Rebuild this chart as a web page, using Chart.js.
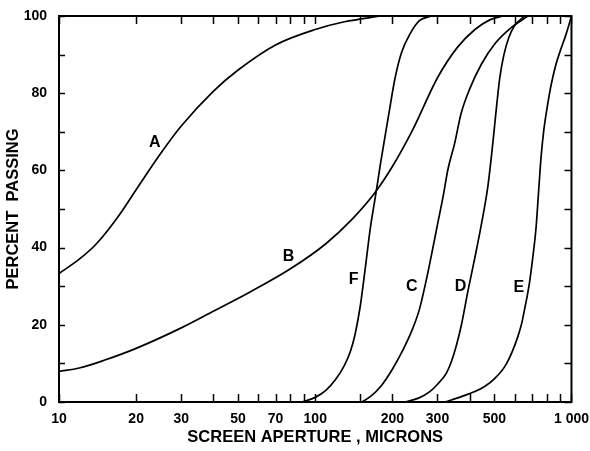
<!DOCTYPE html>
<html>
<head>
<meta charset="utf-8">
<script src="https://cdn.jsdelivr.net/npm/chart.js@4"></script>
<style>
  html, body { margin: 0; padding: 0; background: #fff; }
  canvas { display: block; }
</style>
</head>
<body>
<canvas id="myChart" width="590" height="451"></canvas>
<script>
// screen aperture (microns) and cumulative percent passing for each sample
const curveAx = [10, 12, 14, 17, 20, 25, 30, 40, 50, 70, 100, 130, 180];
const curveAy = [33.3, 37, 41, 48, 55, 64.5, 71.5, 80.5, 86, 92.5, 96.5, 98.5, 100];

const curveBx = [10, 12, 15, 20, 30, 40, 55, 80, 110, 140, 170, 200, 240, 300, 360, 420, 480, 540];
const curveBy = [7.9, 8.8, 10.8, 13.9, 19.2, 23.5, 28.3, 34.5, 41, 47.5, 54, 61, 70.5, 84, 92, 96.5, 99, 100];

const curveCx = [152, 165, 180, 200, 220, 240, 255, 270, 285, 300, 315, 330, 350, 370, 400, 445, 505, 582, 676];
const curveCy = [0, 1.5, 4, 8.5, 13.5, 19, 24, 31, 38.5, 46, 53, 60.5, 67, 74.5, 81, 87.5, 93, 97, 100];

const curveDx = [224, 253, 280, 302, 325, 340, 355, 372, 395, 420, 445, 472, 494, 509, 525, 545, 570, 600, 656];
const curveDy = [0, 1, 2.7, 4.8, 7.5, 10.5, 14.5, 20, 29, 37.5, 46, 56, 67.5, 76, 84, 90, 94.5, 97.5, 100];

const curveEx = [321, 372, 420, 458, 500, 548, 585, 618, 640, 656, 672, 686, 705, 727, 745, 761, 780, 800, 832, 870, 910, 955, 1000];
const curveEy = [0, 1.4, 2.7, 4, 6, 9.1, 12.8, 17, 20.5, 24, 27.5, 31, 37, 45, 55, 63.5, 70.5, 75.5, 82, 87.5, 91.5, 95.5, 100];

const curveFx = [89, 100, 110, 120, 130, 137, 143, 150, 157, 164, 172, 180, 193, 205, 217, 235, 255, 284];
const curveFy = [0, 1.2, 3, 5.8, 9.5, 13, 17.5, 25, 35, 45, 53.5, 62, 74, 84, 90.5, 95.5, 98.8, 100];

const curveNames = ['A', 'B', 'C', 'D', 'E', 'F'];
const labelX = [23.65, 78.6, 238, 369, 623, 141.3];
const labelY = [67.2, 37.6, 29.9, 29.9, 29.6, 31.6];

const xLabelled = [10, 20, 30, 50, 70, 100, 200, 300, 500, 1000];

const series = [
  [curveAx, curveAy], [curveBx, curveBy], [curveCx, curveCy],
  [curveDx, curveDy], [curveEx, curveEy], [curveFx, curveFy]
];

const toPoints = (xs, ys) => xs.map((x, i) => ({ x: x, y: ys[i] }));

// frame with inward tick marks on all four sides, plus curve letters
const framePlugin = {
  id: 'frame',
  afterDatasetsDraw(chart) {
    const c = chart.ctx;
    const a = chart.chartArea;
    const sx = chart.scales.x;
    const sy = chart.scales.y;
    c.save();
    c.strokeStyle = '#000';
    c.lineWidth = 2;
    c.strokeRect(a.left, a.top, a.right - a.left, a.bottom - a.top);

    c.lineWidth = 1.5;
    c.beginPath();
    sx.ticks.forEach(t => {
      const px = Math.round(sx.getPixelForValue(t.value)) + 0.5;
      c.moveTo(px, a.bottom);
      c.lineTo(px, a.bottom - 8);
      c.moveTo(px, a.top);
      c.lineTo(px, a.top + 8);
    });
    sy.ticks.forEach(t => {
      const py = Math.round(sy.getPixelForValue(t.value)) + 0.5;
      c.moveTo(a.left, py);
      c.lineTo(a.left + 6, py);
      c.moveTo(a.right, py);
      c.lineTo(a.right - 7, py);
    });
    c.stroke();

    c.fillStyle = '#000';
    c.font = 'bold 16px "Liberation Sans", Arial, sans-serif';
    c.textAlign = 'center';
    c.textBaseline = 'middle';
    curveNames.forEach((n, i) => {
      c.fillText(n, sx.getPixelForValue(labelX[i]), sy.getPixelForValue(labelY[i]));
    });
    c.restore();
  }
};

const tickFont = { family: '"Liberation Sans", Arial, sans-serif', size: 14, weight: 'bold' };
const titleFont = { family: '"Liberation Sans", Arial, sans-serif', size: 16.5, weight: 'bold' };

const ctx = document.getElementById('myChart');

new Chart(ctx, {
  type: 'line',
  data: {
    datasets: series.map((s, i) => ({
      label: curveNames[i],
      data: toPoints(s[0], s[1]),
      borderColor: '#000',
      borderWidth: 1.7,
      pointRadius: 0,
      fill: false,
      cubicInterpolationMode: 'monotone'
    }))
  },
  options: {
    responsive: false,
    animation: false,
    devicePixelRatio: 1,
    layout: { padding: { top: 16, right: 17, left: 0, bottom: 0 } },
    plugins: {
      legend: { display: false },
      tooltip: { enabled: false }
    },
    scales: {
      x: {
        type: 'logarithmic',
        min: 10,
        max: 1000,
        grid: { display: false },
        border: { display: false },
        afterFit: s => { s.height = 49; },
        ticks: {
          autoSkip: false,
          maxRotation: 0,
          padding: 1,
          color: '#000',
          font: tickFont,
          callback: v => xLabelled.includes(v) ? (v === 1000 ? '1 000' : String(v)) : ''
        },
        title: {
          display: true,
          text: 'SCREEN APERTURE , MICRONS',
          color: '#000',
          font: titleFont,
          padding: { top: 0, bottom: 4 }
        }
      },
      y: {
        min: 0,
        max: 100,
        grid: { display: false },
        border: { display: false },
        afterFit: s => { s.width = 59; },
        ticks: {
          stepSize: 10,
          padding: 4,
          color: '#000',
          font: tickFont,
          callback: v => v % 20 === 0 ? String(v) : ''
        },
        title: {
          display: true,
          text: 'PERCENT  PASSING',
          color: '#000',
          font: titleFont,
          padding: { top: 4, bottom: 0 }
        }
      }
    }
  },
  plugins: [framePlugin]
});
</script>
</body>
</html>
